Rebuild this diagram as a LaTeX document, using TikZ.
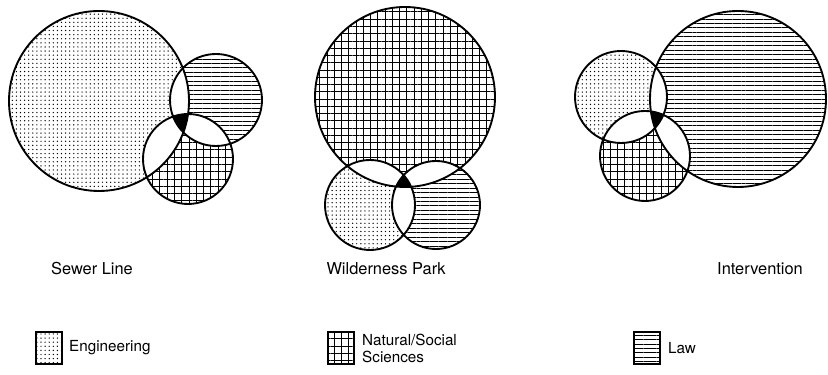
\documentclass[tikz,border=0pt]{standalone}
\usepackage{fontspec}
\setsansfont{TeX Gyre Heros}
\usetikzlibrary{patterns.meta}

% fill the common part of two circles
\newcommand{\lensfill}[3]{\begin{scope}\clip #1; \fill[#3] #2;\end{scope}}
% fill the common part of three circles
\newcommand{\corefill}[3]{\begin{scope}\clip #1; \clip #2; \fill[black] #3;\end{scope}}

\begin{document}
\begin{tikzpicture}[
    x=0.03cm, y=0.03cm,
    font=\sffamily\fontsize{14}{16}\selectfont,
    dotfill/.style={pattern={Dots[distance=3.5pt, radius=0.6pt]}},
    gridfill/.style={pattern={Hatch[distance=6.2pt, line width=0.6pt]}},
    linefill/.style={pattern={Lines[distance=3.8pt, line width=0.55pt]}},
    setline/.style={line width=1.6pt},
    keybox/.style={draw, line width=1.3pt, minimum width=0.78cm, minimum height=0.95cm, inner sep=0pt},
    keytext/.style={anchor=west, align=left, inner sep=0pt, font=\sffamily\fontsize{13}{14.5}\selectfont}
]
    \useasboundingbox (0,0) rectangle (828,375);

    % =========================================================================
    % SEWER LINE
    % =========================================================================
    \def\ca{(99,274) circle[radius=90]}
    \def\cb{(216,275) circle[radius=46]}
    \def\cc{(188,216) circle[radius=45]}
    \fill[dotfill] \ca;
    \fill[linefill] \cb;
    \fill[gridfill] \cc;
    \lensfill{\ca}{\cb}{white}
    \lensfill{\ca}{\cc}{white}
    \lensfill{\cb}{\cc}{white}
    \corefill{\ca}{\cb}{\cc}
    \draw[setline] \ca \cb \cc;
    \node (sewer) at (92,106) {Sewer Line};

    % =========================================================================
    % WILDERNESS PARK
    % =========================================================================
    \def\ca{(405,278) circle[radius=90]}
    \def\cb{(370,170) circle[radius=45]}
    \def\cc{(436,170) circle[radius=44]}
    \fill[gridfill] \ca;
    \fill[dotfill] \cb;
    \fill[linefill] \cc;
    \lensfill{\ca}{\cb}{white}
    \lensfill{\ca}{\cc}{white}
    \lensfill{\cb}{\cc}{white}
    \corefill{\ca}{\cb}{\cc}
    \draw[setline] \ca \cb \cc;
    \node (park) at (386,106) {Wilderness Park};

    % =========================================================================
    % INTERVENTION
    % =========================================================================
    \def\ca{(738,276) circle[radius=88]}
    \def\cb{(621,278) circle[radius=46]}
    \def\cc{(645,219) circle[radius=45]}
    \fill[linefill] \ca;
    \fill[dotfill] \cb;
    \fill[gridfill] \cc;
    \lensfill{\ca}{\cb}{white}
    \lensfill{\ca}{\cc}{white}
    \lensfill{\cb}{\cc}{white}
    \corefill{\ca}{\cb}{\cc}
    \draw[setline] \ca \cb \cc;
    \node (interv) at (760,106) {Intervention};

    % --- KEY ---
    \node[keybox, dotfill] (engbox) at (49,27) {};
    \node[keytext] (engtxt) at (69,27) {Engineering};
    \node[keybox, gridfill] (natbox) at (341,27) {};
    \node[keytext] (nattxt) at (362,27) {Natural/Social\\Sciences};
    \node[keybox, linefill] (lawbox) at (647,27) {};
    \node[keytext] (lawtxt) at (668,27) {Law};

\end{tikzpicture}
\end{document}
